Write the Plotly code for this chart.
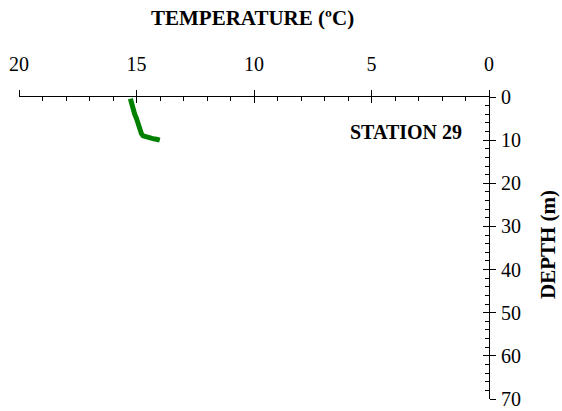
import plotly.graph_objects as go

# Temperature profile, station 29
temperature_c = [15.26, 15.22, 15.15, 15.08, 15.0, 14.94, 14.86, 14.79,
                 14.72, 14.6, 14.51, 14.3, 14.15, 14.01]
depth_m = [0.4, 1.5, 2.7, 3.9, 5.0, 6.2, 7.3, 8.5,
           9.0, 9.25, 9.4, 9.65, 9.8, 10.0]

x_ticks = [20, 15, 10, 5, 0]
y_ticks = [0, 10, 20, 30, 40, 50, 60, 70]

FONT = "Liberation Serif, Times New Roman, serif"
INK = "#000000"

fig = go.Figure()
fig.add_trace(go.Scatter(
    x=temperature_c, y=depth_m, mode="lines",
    line=dict(color="#008000", width=5),
    xaxis="x", yaxis="y", showlegend=False, hoverinfo="skip",
))
# invisible helper trace so the overlay axes get drawn
fig.add_trace(go.Scatter(
    x=[None], y=[None], xaxis="x2", yaxis="y2", showlegend=False, hoverinfo="skip",
))

axis_font = dict(family=FONT, size=20, color=INK)

fig.update_layout(
    width=562, height=411,
    margin=dict(l=19, r=73, t=97, b=12),
    paper_bgcolor="white", plot_bgcolor="white",
    font=dict(family=FONT, color=INK),
    xaxis=dict(
        range=[20, 0], side="top", anchor="y", automargin=False,
        tickvals=x_ticks, ticktext=[str(v) for v in x_ticks],
        ticks="inside", ticklen=6, tickwidth=1, tickcolor=INK,
        minor=dict(dtick=1, ticks="inside", ticklen=4, tickwidth=1, tickcolor=INK),
        showline=True, linecolor=INK, linewidth=1,
        showgrid=False, zeroline=False,
        tickfont=axis_font, ticklabelstandoff=17,
    ),
    yaxis=dict(
        range=[70, 0], side="right", anchor="x", automargin=False,
        tickvals=y_ticks, ticktext=[str(v) for v in y_ticks],
        ticks="inside", ticklen=6, tickwidth=1, tickcolor=INK,
        minor=dict(dtick=2, ticks="inside", ticklen=4, tickwidth=1, tickcolor=INK),
        showline=True, linecolor=INK, linewidth=1,
        showgrid=False, zeroline=False,
        tickfont=axis_font, ticklabelstandoff=7,
    ),
    # overlay axes supply the outer half of the crossing major ticks
    xaxis2=dict(
        range=[20, 0], side="top", overlaying="x", anchor="y2", automargin=False,
        tickvals=x_ticks, ticks="outside", ticklen=6, tickwidth=1, tickcolor=INK,
        showticklabels=False, showline=False, showgrid=False, zeroline=False,
    ),
    yaxis2=dict(
        range=[70, 0], side="right", overlaying="y", anchor="x2", automargin=False,
        tickvals=y_ticks, ticks="outside", ticklen=6, tickwidth=1, tickcolor=INK,
        showticklabels=False, showline=False, showgrid=False, zeroline=False,
    ),
    annotations=[
        dict(text="<b>TEMPERATURE (ºC)</b>", xref="paper", yref="paper",
             x=(252 - 19) / 470, y=(399 - 18) / 302, xanchor="center", yanchor="middle",
             showarrow=False, font=dict(family=FONT, size=21, color=INK)),
        dict(text="<b>DEPTH (m)</b>", xref="paper", yref="paper",
             x=(548 - 19) / 470, y=(399 - 245) / 302, xanchor="center", yanchor="middle",
             showarrow=False, textangle=-90, font=dict(family=FONT, size=21, color=INK)),
        dict(text="<b>STATION 29</b>", xref="paper", yref="paper",
             x=(464 - 19) / 470, y=(399 - 132) / 302, xanchor="right", yanchor="middle",
             showarrow=False, font=dict(family=FONT, size=20, color=INK)),
    ],
)

fig.write_html("out.html")
